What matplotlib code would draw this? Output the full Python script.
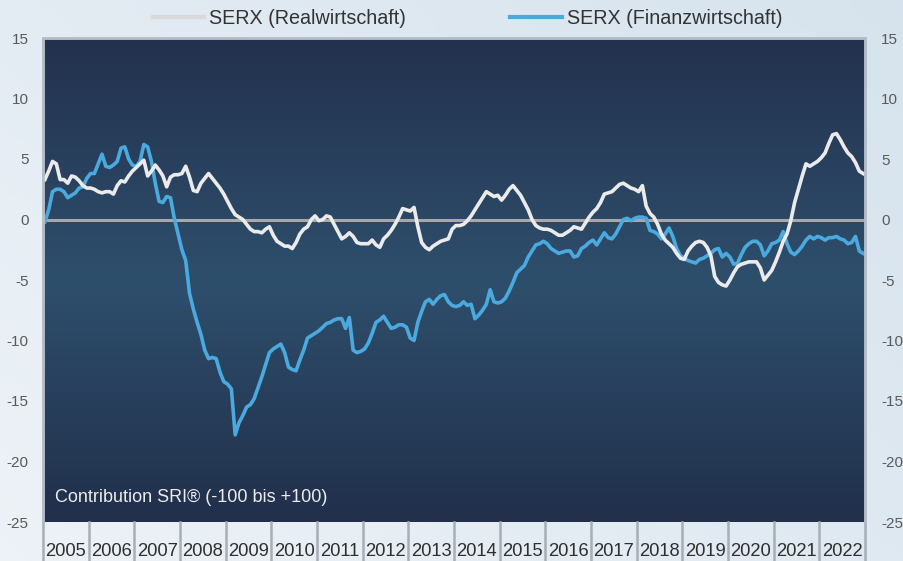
import numpy as np
import matplotlib
matplotlib.use("Agg")
import matplotlib.pyplot as plt
from matplotlib.lines import Line2D

plt.rcParams['font.family'] = ['Liberation Sans', 'DejaVu Sans']

# ---------------- data (monthly, Jan 2005 .. Dec 2022) ----------------
years = [str(y) for y in range(2005, 2023)]
y_ticks = [15, 10, 5, 0, -5, -10, -15, -20, -25]

serx_real = [
    3.3, 4.0, 4.8, 4.6, 3.3, 3.3, 3.0, 3.6, 3.5, 3.2, 2.8, 2.6,
    2.6, 2.5, 2.3, 2.2, 2.3, 2.3, 2.1, 2.8, 3.2, 3.1, 3.6, 4.0,
    4.3, 4.6, 4.9, 3.6, 4.0, 4.5, 4.1, 3.6, 2.7, 3.5, 3.7, 3.7,
    3.8, 4.4, 3.5, 2.4, 2.3, 3.0, 3.4, 3.8, 3.4, 3.0, 2.6, 2.1,
    1.5, 0.9, 0.4, 0.2, 0.0, -0.4, -0.8, -1.0, -1.0, -1.1, -0.8, -0.6,
    -1.3, -1.8, -2.0, -2.2, -2.2, -2.4, -1.9, -1.2, -0.8, -0.6, 0.0, 0.3,
    -0.1, 0.0, 0.3, 0.2, -0.4, -1.0, -1.6, -1.4, -1.1, -1.4, -1.9, -2.0,
    -2.0, -2.0, -1.7, -2.1, -2.3, -1.6, -1.3, -0.9, -0.4, 0.2, 0.9, 0.8,
    0.7, 1.0, -0.6, -1.9, -2.3, -2.5, -2.2, -2.0, -1.8, -1.7, -1.6, -0.8,
    -0.5, -0.5, -0.4, -0.1, 0.3, 0.8, 1.3, 1.8, 2.3, 2.1, 1.9, 2.0,
    1.6, 2.0, 2.5, 2.8, 2.4, 2.0, 1.4, 0.8, 0.0, -0.5, -0.7, -0.8,
    -0.8, -0.9, -1.1, -1.3, -1.3, -1.1, -0.9, -0.6, -0.7, -0.8, -0.3, 0.2,
    0.6, 0.9, 1.4, 2.1, 2.2, 2.3, 2.6, 2.9, 3.0, 2.8, 2.6, 2.5,
    2.3, 2.8, 1.1, 0.5, 0.2, -0.4, -1.2, -1.7, -2.0, -2.3, -2.8, -3.2,
    -3.3, -2.6, -2.2, -1.9, -1.8, -1.9, -2.3, -3.0, -4.7, -5.2, -5.4, -5.5,
    -5.0, -4.4, -3.9, -3.7, -3.6, -3.5, -3.5, -3.5, -4.0, -5.0, -4.6, -4.2,
    -3.5, -2.7, -1.8, -1.2, -0.1, 1.4, 2.5, 3.6, 4.6, 4.4, 4.6, 4.8,
    5.1, 5.5, 6.3, 7.0, 7.1, 6.6, 6.0, 5.5, 5.2, 4.7, 4.0, 3.8,
]

serx_finanz = [
    -0.2, 0.8, 2.3, 2.5, 2.5, 2.3, 1.8, 2.0, 2.2, 2.6, 2.7, 3.4,
    3.8, 3.8, 4.6, 5.4, 4.4, 4.3, 4.5, 4.8, 5.9, 6.0, 5.0, 4.5,
    4.4, 4.8, 6.2, 6.0, 4.8, 3.0, 1.5, 1.4, 1.9, 1.8, 0.1, -1.2,
    -2.5, -3.4, -6.1, -7.4, -8.5, -9.5, -10.8, -11.5, -11.4, -11.5, -12.6, -13.4,
    -13.6, -14.0, -17.8, -16.8, -16.2, -15.5, -15.3, -14.8, -13.9, -13.0, -12.0, -11.0,
    -10.7, -10.5, -10.3, -11.0, -12.2, -12.4, -12.5, -11.6, -10.8, -9.8, -9.6, -9.4,
    -9.2, -8.9, -8.6, -8.5, -8.3, -8.2, -8.2, -9.0, -8.1, -10.8, -11.0, -10.9,
    -10.7, -10.2, -9.4, -8.5, -8.3, -8.0, -8.5, -9.0, -8.9, -8.7, -8.7, -8.9,
    -9.8, -10.0, -8.5, -7.6, -6.8, -6.6, -7.0, -6.6, -6.3, -6.2, -6.8, -7.1,
    -7.2, -7.1, -6.8, -7.1, -7.0, -8.2, -7.9, -7.5, -7.0, -5.8, -6.8, -6.9,
    -6.8, -6.5, -5.9, -5.2, -4.4, -4.1, -3.8, -3.1, -2.6, -2.1, -2.0, -1.8,
    -2.0, -2.4, -2.6, -2.8, -2.7, -2.6, -2.6, -3.1, -3.0, -2.4, -2.2, -1.9,
    -1.7, -2.1, -1.6, -1.1, -1.5, -1.6, -1.2, -0.6, 0.0, 0.1, -0.1, 0.1,
    0.2, 0.2, 0.1, -0.9, -1.0, -1.2, -1.6, -1.2, -0.7, -1.4, -2.4, -3.0,
    -3.2, -3.4, -3.5, -3.6, -3.3, -3.2, -3.0, -2.8, -2.5, -2.4, -3.1, -2.8,
    -3.1, -3.7, -3.6, -2.9, -2.3, -2.0, -1.8, -1.8, -2.1, -3.0, -2.6, -2.0,
    -1.9, -1.7, -1.0, -2.0, -2.7, -2.9, -2.6, -2.2, -1.7, -1.4, -1.6, -1.4,
    -1.5, -1.7, -1.5, -1.5, -1.4, -1.6, -1.7, -2.0, -1.9, -1.4, -2.6, -2.8,
]

label_real = "SERX (Realwirtschaft)"
label_fin = "SERX (Finanzwirtschaft)"
note = "Contribution SRI® (-100 bis +100)"

# ---------------- figure ----------------
W, H = 904, 561
fig = plt.figure(figsize=(W / 100, H / 100), dpi=100)

# light page background with a soft gradient
bg = fig.add_axes([0, 0, 1, 1], zorder=-10)
gx = np.linspace(0, 1, 200)
gy = np.linspace(0, 1, 120)
GX, GY = np.meshgrid(gx, gy)
c1 = np.array([0.93, 0.95, 0.97])
c2 = np.array([0.84, 0.89, 0.93])
t = np.clip(0.6 * GX + 0.4 * (1 - GY), 0, 1)[..., None]
bg.imshow(c1 * (1 - t) + c2 * t, aspect='auto', extent=[0, 1, 0, 1])
bg.set_axis_off()

L, R, T, B = 43, 865, 38, 522
ax = fig.add_axes([L / W, 1 - B / H, (R - L) / W, (B - T) / H])

n = len(serx_real)
x = np.arange(n) + 0.5
ax.set_xlim(0, n)
ax.set_ylim(-25, 15)

# dark gradient plot background
top = np.array([35, 49, 78]) / 255
mid = np.array([46, 79, 108]) / 255
bot = np.array([33, 47, 75]) / 255
vals = np.linspace(0, 1, 256)
cols = []
for v in vals:
    if v < 0.5:
        s = v / 0.5
        cols.append(top * (1 - s) + mid * s)
    else:
        s = (v - 0.5) / 0.5
        cols.append(mid * (1 - s) + bot * s)
grad = np.array(cols)[:, None, :]
ax.imshow(grad, aspect='auto', extent=[0, n, -25, 15],
          origin='upper', zorder=0)

ax.axhline(0, color='#a8a8a8', lw=2.2, zorder=1)
ax.plot(x, serx_real, color='#ebebeb', lw=2.6, zorder=3, label=label_real,
        solid_joinstyle='round')
ax.plot(x, serx_finanz, color='#4aa9de', lw=2.6, zorder=2, label=label_fin,
        solid_joinstyle='round')

ax.text(12 / (R - L), (B - 497) / (B - T), note, transform=ax.transAxes,
        color='#ececec', fontsize=13, va='center', ha='left')

# y tick labels on both sides
ax.set_yticks(y_ticks)
ax.set_yticklabels([str(v) for v in y_ticks])
ax.tick_params(axis='y', which='both', length=0, labelsize=11,
               labelcolor='#5a5a5a', left=False, labelleft=True, pad=10.5)
ax.set_xticks([])

axr = ax.twinx()
axr.set_ylim(-25, 15)
axr.set_yticks(y_ticks)
axr.set_yticklabels([str(v) for v in y_ticks])
axr.tick_params(axis='y', length=0, labelsize=11, labelcolor='#5a5a5a', pad=11.5)
for a in (ax, axr):
    for side in ['left', 'right', 'top']:
        a.spines[side].set_color('#b4bcc6')
        a.spines[side].set_linewidth(1.8)
    a.spines['bottom'].set_visible(False)

# year boxes below the plot
box_h = (H - B) / (B - T)
for k in range(len(years) + 1):
    ax.plot([k / len(years)] * 2, [0, -box_h], transform=ax.transAxes,
            color='#a7aeb6', lw=1.8, clip_on=False, zorder=5)
for k, yl in enumerate(years):
    ax.text((k + 0.5) / len(years), -(551 - B) / (B - T), yl,
            transform=ax.transAxes, ha='center', va='center',
            fontsize=13.2, color='#2f2f2f')

# legend
handles = [Line2D([], [], color='#d9d9d9', lw=3),
           Line2D([], [], color='#4aa9de', lw=3)]
fig.legend(handles, [label_real, label_fin], loc='center',
           bbox_to_anchor=(0.517, 1 - 18 / H), ncol=2, frameon=False,
           fontsize=14.2, handlelength=2.6, handletextpad=0.25,
           columnspacing=5.3, labelcolor='#333333')

fig.savefig('out.png', dpi=100, facecolor=fig.get_facecolor())
